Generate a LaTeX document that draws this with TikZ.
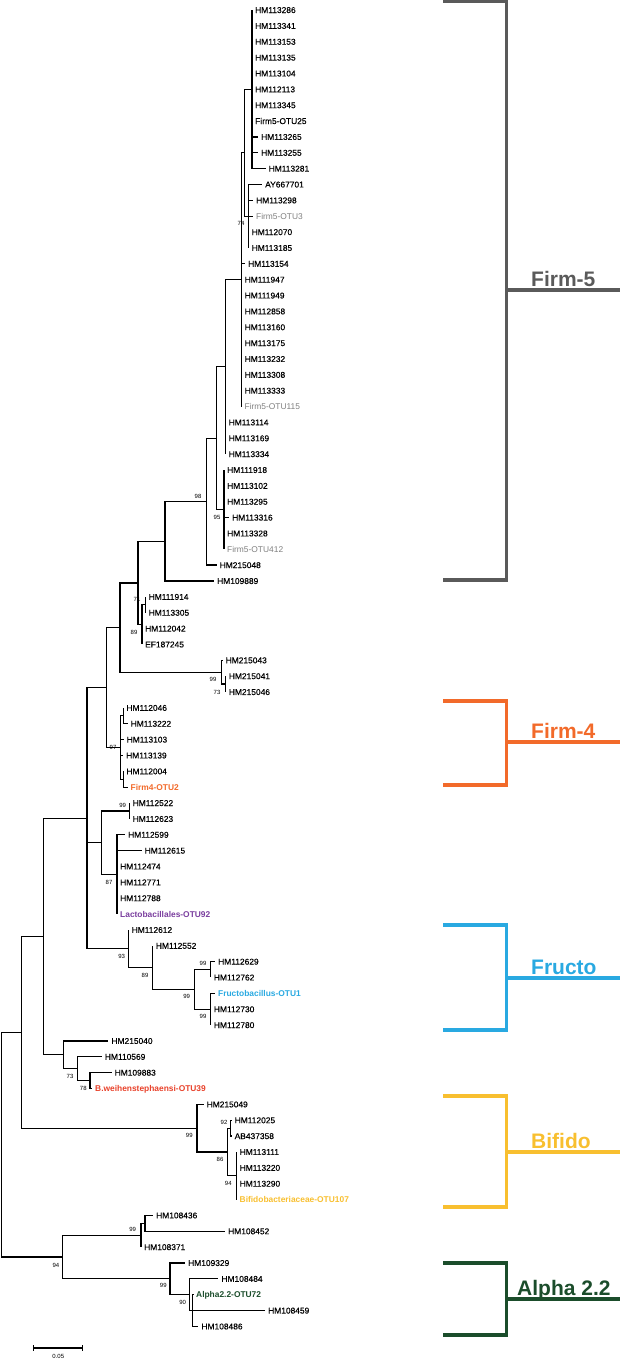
\documentclass[tikz,border=0pt]{standalone}
\usepackage{fontspec}
\setmainfont{Liberation Sans}
\newfontfamily\lfont{Liberation Sans}[FakeBold=0.3]
\usetikzlibrary{calc}
\definecolor{cgray}{HTML}{5A5A5A}
\definecolor{cotu}{HTML}{808080}
\definecolor{corange}{HTML}{F26A2A}
\definecolor{cblue}{HTML}{29A9E1}
\definecolor{cyellow}{HTML}{F8BF2F}
\definecolor{cgreen}{HTML}{1B4D2B}
\definecolor{cpurple}{HTML}{7A3E9E}
\definecolor{cred}{HTML}{E8412A}
\newcommand\lf[4][]{\coordinate (l#2) at (#3,{10+15.86*(#2-1)});\node[leaf,#1] (t#2) at (l#2) {#4};}
\newcommand\nd[4]{\path ($(#3)!.5!(#4)$) coordinate (m#1); \path let \p1=(m#1) in (#2pt,\y1) coordinate (#1);}
\newcommand\ed[2]{\foreach \c in {#2} {\draw[br] (#1) |- (\c);}}
\begin{document}
\begin{tikzpicture}[x=1pt,y=-1pt,
  br/.style={line width=1.25pt},
  leaf/.style={anchor=west,inner sep=0pt,xshift=3pt,font=\fontsize{8.4}{9}\lfont,text height=6pt,text depth=0pt},
  otu5/.style={text=cotu,font=\fontsize{8.4}{9}\selectfont\rmfamily},
  cotuB/.style={font=\fontsize{8.4}{9}\selectfont\rmfamily\bfseries},
  bs/.style={inner sep=0pt,font=\fontsize{6}{7}\selectfont},
  bracket/.style={line width=3.4pt},
  blabel/.style={anchor=base west,inner sep=0pt,font=\fontsize{21}{24}\selectfont\bfseries}]
\useasboundingbox (0,0) rectangle (620,1360);
% leaves
\lf{1}{252}{HM113286}
\lf{2}{252}{HM113341}
\lf{3}{252}{HM113153}
\lf{4}{252}{HM113135}
\lf{5}{252}{HM113104}
\lf{6}{252}{HM112113}
\lf{7}{252}{HM113345}
\lf{8}{252}{Firm5-OTU25}
\lf{9}{258}{HM113265}
\lf{10}{258}{HM113255}
\lf{11}{265.5}{HM113281}
\lf{12}{262}{AY667701}
\lf{13}{253}{HM113298}
\lf[otu5]{14}{253}{Firm5-OTU3}
\lf{15}{248.5}{HM112070}
\lf{16}{248.5}{HM113185}
\lf{17}{245}{HM113154}
\lf{18}{241.5}{HM111947}
\lf{19}{241.5}{HM111949}
\lf{20}{241.5}{HM112858}
\lf{21}{241.5}{HM113160}
\lf{22}{241.5}{HM113175}
\lf{23}{241.5}{HM113232}
\lf{24}{241.5}{HM113308}
\lf{25}{241.5}{HM113333}
\lf[otu5]{26}{241.5}{Firm5-OTU115}
\lf{27}{225.5}{HM113114}
\lf{28}{225.5}{HM113169}
\lf{29}{225.5}{HM113334}
\lf{30}{224}{HM111918}
\lf{31}{224}{HM113102}
\lf{32}{224}{HM113295}
\lf{33}{229}{HM113316}
\lf{34}{224}{HM113328}
\lf[otu5]{35}{224}{Firm5-OTU412}
\lf{36}{216.5}{HM215048}
\lf{37}{214}{HM109889}
\lf{38}{145.5}{HM111914}
\lf{39}{145.5}{HM113305}
\lf{40}{142}{HM112042}
\lf{41}{142}{EF187245}
\lf{42}{222.5}{HM215043}
\lf{43}{225.7}{HM215041}
\lf{44}{225.7}{HM215046}
\lf{45}{123.3}{HM112046}
\lf{46}{127.5}{HM113222}
\lf{47}{123.5}{HM113103}
\lf{48}{123}{HM113139}
\lf{49}{123.3}{HM112004}
\lf[cotuB,text=corange]{50}{127.5}{Firm4-OTU2}
\lf{51}{129.5}{HM112522}
\lf{52}{129.5}{HM112623}
\lf{53}{125}{HM112599}
\lf{54}{141.5}{HM112615}
\lf{55}{117}{HM112474}
\lf{56}{117}{HM112771}
\lf{57}{117}{HM112788}
\lf[cotuB,text=cpurple]{58}{117}{Lactobacillales-OTU92}
\lf{59}{128.5}{HM112612}
\lf{60}{152.7}{HM112552}
\lf{61}{215}{HM112629}
\lf{62}{210.7}{HM112762}
\lf[cotuB,text=cblue]{63}{215}{Fructobacillus-OTU1}
\lf{64}{210.7}{HM112730}
\lf{65}{210.7}{HM112780}
\lf{66}{108.3}{HM215040}
\lf{67}{101.7}{HM110569}
\lf{68}{111.5}{HM109883}
\lf[cotuB,text=cred]{69}{92}{B.weihenstephaensi-OTU39}
\lf{70}{203.5}{HM215049}
\lf{71}{231.5}{HM112025}
\lf{72}{231.5}{AB437358}
\lf{73}{236.5}{HM113111}
\lf{74}{236.5}{HM113220}
\lf{75}{236.5}{HM113290}
\lf[cotuB,text=cyellow]{76}{236.5}{Bifidobacteriaceae-OTU107}
\lf{77}{153}{HM108436}
\lf{78}{225}{HM108452}
\lf{79}{141}{HM108371}
\lf{80}{185}{HM109329}
\lf{81}{218.3}{HM108484}
\lf[cotuB,text=cgreen]{82}{193}{Alpha2.2-OTU72}
\lf{83}{265}{HM108459}
\lf{84}{198.3}{HM108486}
% internal nodes
\nd{A}{252}{l1}{l11}
\nd{C}{248.5}{l12}{l16}
\nd{B}{244.5}{A}{C}
\nd{D}{241.5}{B}{l26}
\nd{E}{225.5}{D}{l29}
\nd{G}{224}{l30}{l35}
\nd{F}{216.5}{E}{G}
\nd{H}{206.5}{F}{l36}
\nd{I}{165}{H}{l37}
\nd{K1}{145.5}{l38}{l39}
\nd{K2}{142}{K1}{l41}
\nd{J}{138}{I}{K2}
\nd{M2}{225.7}{l43}{l44}
\nd{M}{221.7}{l42}{M2}
\nd{L}{120}{J}{M}
\nd{O1}{123.3}{l45}{l46}
\nd{O2}{123.3}{l49}{l50}
\nd{O}{120.7}{O1}{O2}
\nd{N}{106.7}{L}{O}
\nd{Q}{129.5}{l51}{l52}
\nd{R}{117}{l53}{l58}
\nd{S}{101.7}{Q}{R}
\nd{T4}{210.7}{l61}{l62}
\nd{T5}{210.7}{l63}{l65}
\nd{T3}{194.3}{T4}{T5}
\nd{T2}{152.7}{l60}{T3}
\nd{T}{128.5}{l59}{T2}
\nd{P}{87}{N}{T}
\nd{V3}{90}{l68}{l69}
\nd{V2}{77.3}{l67}{V3}
\nd{V}{63.3}{l66}{V2}
\nd{U}{43.3}{P}{V}
\nd{W3}{230.5}{l71}{l72}
\nd{W4}{236.5}{l73}{l76}
\nd{W2}{227.7}{W3}{W4}
\nd{W}{197}{l70}{W2}
\nd{Y}{21.7}{U}{W}
\nd{X0}{145}{l77}{l78}
\nd{X1}{141}{X0}{l79}
\nd{X4}{192.7}{l82}{l84}
\nd{X3}{189.3}{l81}{X4}
\nd{X2}{170}{l80}{X3}
\nd{X}{62.3}{X1}{X2}
\nd{R0}{1.7}{Y}{X}
% edges
\foreach \i in {1,...,11} {\draw[br] (A) |- (l\i);}
\foreach \i in {12,...,16} {\draw[br] (C) |- (l\i);}
\ed{B}{A,C}
\foreach \i in {17,...,26} {\draw[br] (D) |- (l\i);}
\ed{D}{B}
\ed{E}{D,l27,l28,l29}
\foreach \i in {30,...,35} {\draw[br] (G) |- (l\i);}
\ed{F}{E,G}
\ed{H}{F,l36}
\ed{I}{H,l37}
\ed{K1}{l38,l39}
\ed{K2}{K1,l40,l41}
\ed{J}{I,K2}
\ed{M2}{l43,l44}
\ed{M}{l42,M2}
\ed{L}{J,M}
\ed{O1}{l45,l46}
\ed{O2}{l49,l50}
\ed{O}{O1,l47,l48,O2}
\ed{N}{L,O}
\ed{Q}{l51,l52}
\foreach \i in {53,...,58} {\draw[br] (R) |- (l\i);}
\ed{S}{Q,R}
\ed{T4}{l61,l62}
\ed{T5}{l63,l64,l65}
\ed{T3}{T4,T5}
\ed{T2}{l60,T3}
\ed{T}{l59,T2}
\ed{P}{N,S,T}
\ed{V3}{l68,l69}
\ed{V2}{l67,V3}
\ed{V}{l66,V2}
\ed{U}{P,V}
\ed{W3}{l71,l72}
\foreach \i in {73,...,76} {\draw[br] (W4) |- (l\i);}
\ed{W2}{W3,W4}
\ed{W}{l70,W2}
\ed{Y}{U,W}
\ed{X0}{l77,l78}
\ed{X1}{X0,l79}
\ed{X4}{l82,l83,l84}
\ed{X3}{l81,X4}
\ed{X2}{l80,X3}
\ed{X}{X1,X2}
\ed{R0}{Y,X}
% bootstrap values
\node[bs] (b1) at (241,223) {74};
\node[bs] (b2) at (198,496) {98};
\node[bs] (b3) at (217,517) {95};
\node[bs] (b4) at (137,599) {71};
\node[bs] (b5) at (134,632) {89};
\node[bs] (b6) at (213,679) {99};
\node[bs] (b7) at (217,692) {73};
\node[bs] (b8) at (113,747) {97};
\node[bs] (b9) at (122.7,805) {99};
\node[bs] (b10) at (109,882) {87};
\node[bs] (b11) at (121.7,956) {93};
\node[bs] (b12) at (145,975) {89};
\node[bs] (b13) at (186.7,996.7) {99};
\node[bs] (b14) at (203,963) {99};
\node[bs] (b15) at (203,1016) {99};
\node[bs] (b16) at (70,1076) {73};
\node[bs] (b17) at (83.3,1088) {78};
\node[bs] (b18) at (189.3,1135) {99};
\node[bs] (b19) at (224,1122.7) {92};
\node[bs] (b20) at (220,1159) {86};
\node[bs] (b21) at (228.3,1183) {94};
\node[bs] (b22) at (132.7,1229.3) {99};
\node[bs] (b23) at (56,1265) {94};
\node[bs] (b24) at (163.3,1285.7) {99};
\node[bs] (b25) at (182.7,1302.3) {90};
% scale bar
\coordinate (sb1) at (33.3,1348);
\coordinate (sb2) at (82.7,1348);
\draw[br] (sb1) -- (sb2);
\draw[br] ([yshift=3pt]sb1) -- ([yshift=-3pt]sb1);
\draw[br] ([yshift=3pt]sb2) -- ([yshift=-3pt]sb2);
\node[bs] (sbl) at (58.3,1356.5) {0.05};
% brackets
\begin{scope}[cgray]
\coordinate (f5a) at (443,1.5); \coordinate (f5b) at (506.7,1.5);
\coordinate (f5c) at (506.7,580); \coordinate (f5d) at (443,580);
\coordinate (f5m) at (506.7,290); \coordinate (f5e) at (620,290);
\draw[bracket] (f5a) -- (f5b) -- (f5c) -- (f5d);
\draw[bracket] (f5m) -- (f5e);
\node[blabel,text=cgray] (f5l) at (531,286) {Firm-5};
\end{scope}
\begin{scope}[corange]
\coordinate (f4a) at (443,701); \coordinate (f4b) at (506.7,701);
\coordinate (f4c) at (506.7,785); \coordinate (f4d) at (443,785);
\coordinate (f4m) at (506.7,742); \coordinate (f4e) at (620,742);
\draw[bracket] (f4a) -- (f4b) -- (f4c) -- (f4d);
\draw[bracket] (f4m) -- (f4e);
\node[blabel,text=corange] (f4l) at (531,738) {Firm-4};
\end{scope}
\begin{scope}[cblue]
\coordinate (fra) at (443,925); \coordinate (frb) at (506.7,925);
\coordinate (frc) at (506.7,1030); \coordinate (frd) at (443,1030);
\coordinate (frm) at (506.7,978); \coordinate (fre) at (620,978);
\draw[bracket] (fra) -- (frb) -- (frc) -- (frd);
\draw[bracket] (frm) -- (fre);
\node[blabel,text=cblue] (frl) at (531,974) {Fructo};
\end{scope}
\begin{scope}[cyellow]
\coordinate (bia) at (443,1096); \coordinate (bib) at (506.7,1096);
\coordinate (bic) at (506.7,1207); \coordinate (bid) at (443,1207);
\coordinate (bim) at (506.7,1152); \coordinate (bie) at (620,1152);
\draw[bracket] (bia) -- (bib) -- (bic) -- (bid);
\draw[bracket] (bim) -- (bie);
\node[blabel,text=cyellow] (bil) at (531,1148) {Bifido};
\end{scope}
\begin{scope}[cgreen]
\coordinate (ala) at (443,1263); \coordinate (alb) at (506.7,1263);
\coordinate (alc) at (506.7,1335); \coordinate (ald) at (443,1335);
\coordinate (alm) at (506.7,1299); \coordinate (ale) at (620,1299);
\draw[bracket] (ala) -- (alb) -- (alc) -- (ald);
\draw[bracket] (alm) -- (ale);
\node[blabel,text=cgreen] (all) at (517,1295) {Alpha 2.2};
\end{scope}
\end{tikzpicture}
\end{document}
